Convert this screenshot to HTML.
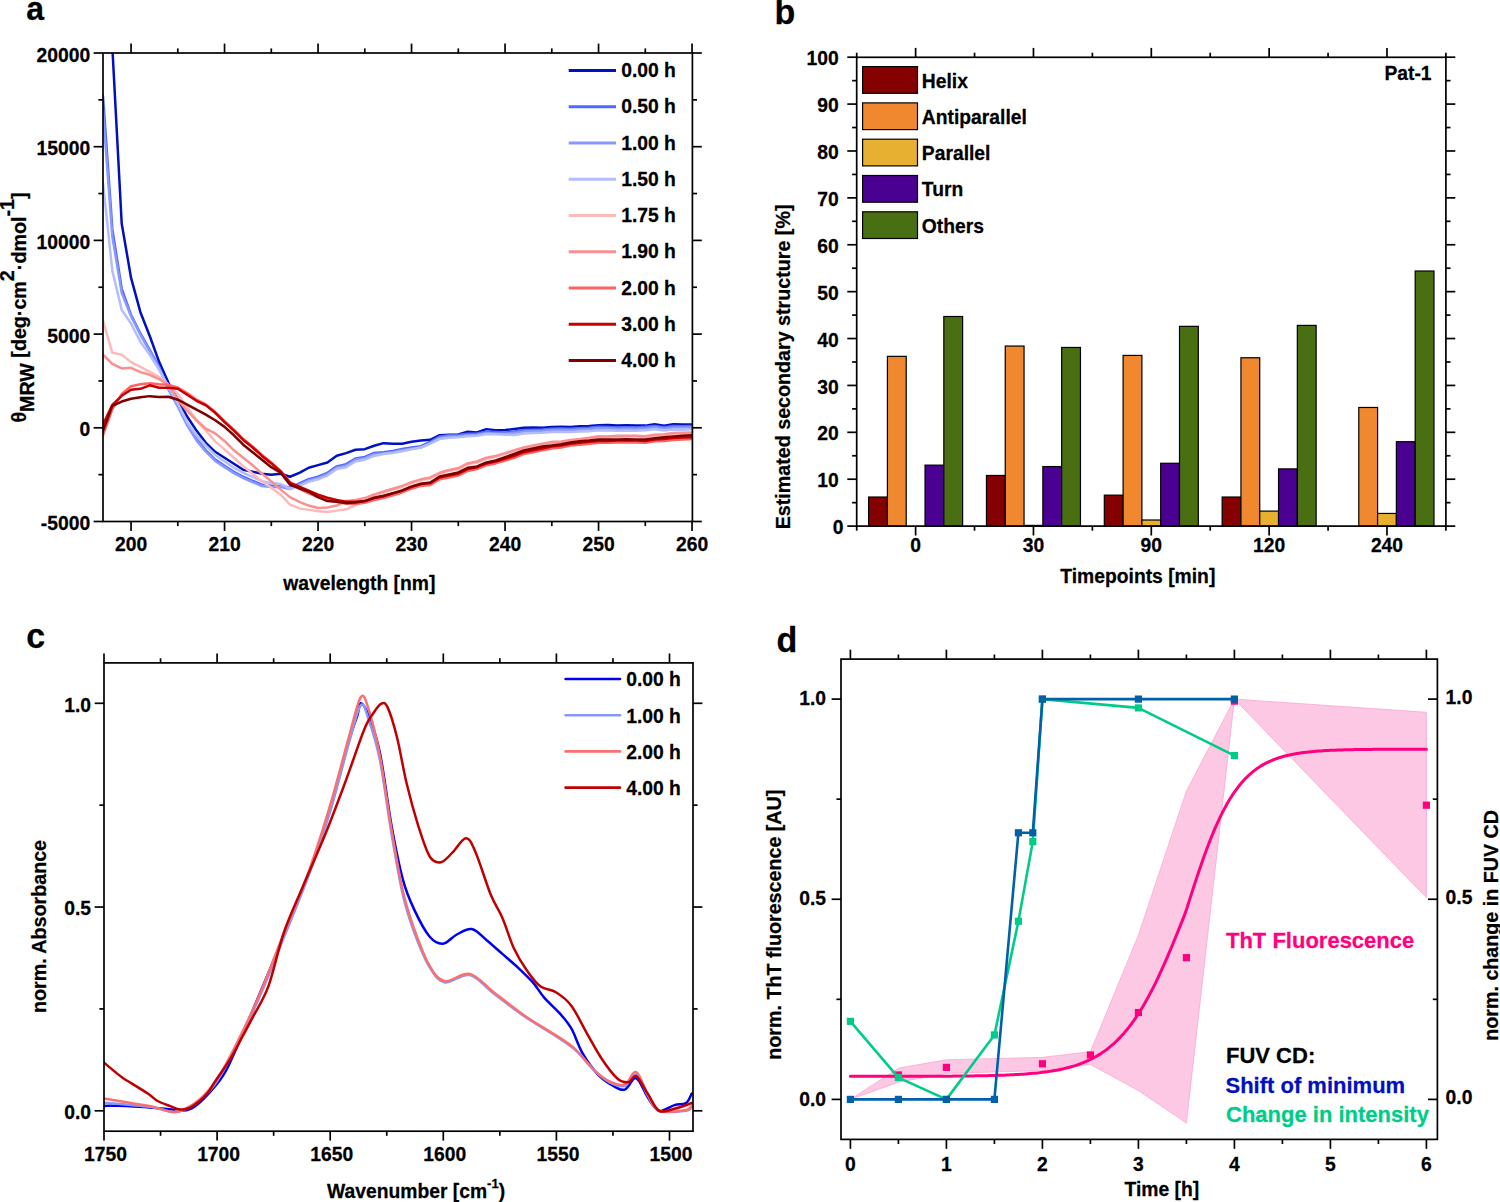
<!DOCTYPE html><html><head><meta charset="utf-8"><style>html,body{margin:0;padding:0;background:#fff;overflow:hidden}svg{display:block}</style></head><body><svg width="1500" height="1202" viewBox="0 0 1500 1202" style="font-family:'Liberation Sans',sans-serif" font-weight="bold" font-size="19.3">
<style>text{stroke:#000;stroke-width:0.25px;stroke-linejoin:round}</style>
<rect width="1500" height="1202" fill="#fff"/>
<defs><clipPath id="ca"><rect x="103.0" y="53.0" width="589.4" height="468.5"/></clipPath>
<clipPath id="cc"><rect x="104.0" y="662.9" width="589.0" height="468.30000000000007"/></clipPath></defs>
<path d="M103,-115.66 L112.35,47.38 L121.7,223.53 L131.05,277.88 L140.4,312.17 L149.75,335.97 L159.1,361.84 L168.45,382.82 L177.8,399.69 L187.15,416.56 L196.5,430.61 L205.85,442.79 L215.2,451.79 L224.55,457.78 L233.9,463.78 L243.25,469.78 L252.6,471.78 L261.95,473.77 L271.3,474.78 L280.65,473.77 L290,476.77 L299.35,472.78 L308.7,467.77 L318.05,465.11 L327.4,462.45 L336.75,455.78 L346.1,453.12 L355.45,449.78 L364.8,449.13 L374.15,445.79 L383.5,443.13 L392.85,443.79 L402.2,443.79 L411.55,441.8 L420.9,440.47 L430.25,439.79 L439.6,435.13 L448.95,434.73 L458.3,434.47 L467.65,431.79 L477,432.47 L486.35,429.13 L495.7,430.2 L505.05,429.99 L514.4,428.92 L523.75,427.8 L533.1,427.43 L542.45,427.8 L551.8,427.07 L561.15,426.68 L570.5,427.05 L579.85,426.3 L589.2,425.93 L598.55,425.16 L607.9,424.99 L617.25,425.61 L626.6,425.36 L635.95,425.55 L645.3,425.61 L654.65,424.13 L664,425.61 L673.35,424.13 L682.7,424.43 L692.05,424.58" fill="none" stroke="#0010C0" stroke-width="2.5" stroke-linejoin="round" stroke-linecap="round" clip-path="url(#ca)"/>
<path d="M103,96.1 L112.35,229.16 L121.7,288.56 L131.05,314.85 L140.4,333.44 L149.75,349.84 L159.1,366.89 L168.45,388.45 L177.8,405.31 L187.15,424.05 L196.5,439.04 L205.85,450.29 L215.2,459.66 L224.55,465.79 L233.9,471.78 L243.25,476.77 L252.6,480.78 L261.95,484.77 L271.3,485.76 L280.65,485.76 L290,487.77 L299.35,483.27 L308.7,479.15 L318.05,476.71 L327.4,472.78 L336.75,466.4 L346.1,464.16 L355.45,458.46 L364.8,456.88 L374.15,452.89 L383.5,452.22 L392.85,450.89 L402.2,448.9 L411.55,447.55 L420.9,446.22 L430.25,441.86 L439.6,436.46 L448.95,435.13 L458.3,434.92 L467.65,433.8 L477,433.42 L486.35,431.79 L495.7,432.11 L505.05,432.49 L514.4,431.55 L523.75,430.05 L533.1,429.67 L542.45,429.49 L551.8,428.74 L561.15,428.55 L570.5,428.74 L579.85,428.17 L589.2,427.8 L598.55,426.86 L607.9,427.05 L617.25,427.43 L626.6,427.24 L635.95,427.43 L645.3,426.86 L654.65,425.93 L664,427.24 L673.35,426.11 L682.7,426.3 L692.05,425.93" fill="none" stroke="#5068FF" stroke-width="2.5" stroke-linejoin="round" stroke-linecap="round" clip-path="url(#ca)"/>
<path d="M103,111.09 L112.35,236.65 L121.7,292.87 L131.05,316.17 L140.4,334.76 L149.75,351.15 L159.1,368.21 L168.45,389.76 L177.8,406.62 L187.15,425.36 L196.5,440.36 L205.85,451.6 L215.2,460.97 L224.55,467.1 L233.9,473.09 L243.25,478.08 L252.6,482.09 L261.95,486.08 L271.3,487.07 L280.65,487.07 L290,489.08 L299.35,484.58 L308.7,480.46 L318.05,478.02 L327.4,474.09 L336.75,467.72 L346.1,465.47 L355.45,459.77 L364.8,458.2 L374.15,454.2 L383.5,453.53 L392.85,452.2 L402.2,450.21 L411.55,448.86 L420.9,447.53 L430.25,443.17 L439.6,437.77 L448.95,436.44 L458.3,436.23 L467.65,435.11 L477,434.73 L486.35,433.1 L495.7,433.42 L505.05,433.8 L514.4,432.86 L523.75,431.36 L533.1,430.99 L542.45,430.8 L551.8,430.05 L561.15,429.86 L570.5,430.05 L579.85,429.49 L589.2,429.11 L598.55,428.17 L607.9,428.36 L617.25,428.74 L626.6,428.55 L635.95,428.74 L645.3,428.17 L654.65,427.24 L664,428.55 L673.35,427.43 L682.7,427.61 L692.05,427.24" fill="none" stroke="#8898FF" stroke-width="2.5" stroke-linejoin="round" stroke-linecap="round" clip-path="url(#ca)"/>
<path d="M103,182.87 L112.35,270.89 L121.7,309.87 L131.05,323.46 L140.4,341.86 L149.75,354.85 L159.1,369.71 L168.45,386.57 L177.8,403.44 L187.15,422.18 L196.5,435.3 L205.85,445.6 L215.2,454.97 L224.55,461.53 L233.9,467.72 L243.25,472.78 L252.6,476.9 L261.95,481.21 L271.3,483.08 L280.65,484.02 L290,488.71 L299.35,485.89 L308.7,481.77 L318.05,479.34 L327.4,475.59 L336.75,469.03 L346.1,467.15 L355.45,461.53 L364.8,459.66 L374.15,455.91 L383.5,454.04 L392.85,453.1 L402.2,451.23 L411.55,449.35 L420.9,447.48 L430.25,443.73 L439.6,439.04 L448.95,437.73 L458.3,437.17 L467.65,436.23 L477,435.67 L486.35,433.98 L495.7,434.36 L505.05,434.73 L514.4,434.92 L523.75,433.42 L533.1,433.05 L542.45,432.86 L551.8,432.11 L561.15,431.92 L570.5,432.11 L579.85,431.55 L589.2,431.17 L598.55,430.24 L607.9,430.42 L617.25,430.8 L626.6,430.61 L635.95,430.8 L645.3,430.24 L654.65,429.3 L664,430.61 L673.35,429.49 L682.7,429.67 L692.05,429.3" fill="none" stroke="#B4BEFF" stroke-width="2.5" stroke-linejoin="round" stroke-linecap="round" clip-path="url(#ca)"/>
<path d="M103,320.85 L112.35,352.84 L121.7,354.64 L131.05,362.14 L140.4,366.84 L149.75,371.82 L159.1,377.2 L168.45,384.7 L177.8,394.07 L187.15,407.19 L196.5,420.3 L205.85,430.61 L215.2,441.35 L224.55,449.35 L233.9,457.78 L243.25,466.22 L252.6,473.71 L261.95,481.32 L271.3,487.77 L280.65,494.66 L290,504.63 L299.35,508.38 L308.7,509.88 L318.05,511.19 L327.4,512 L336.75,510.63 L346.1,509.34 L355.45,505.1 L364.8,501.82 L374.15,495.26 L383.5,492.45 L392.85,489.64 L402.2,486.83 L411.55,483.08 L420.9,480.27 L430.25,478.4 L439.6,473.71 L448.95,470.9 L458.3,469.03 L467.65,464.34 L477,462.47 L486.35,458.72 L495.7,456.85 L505.05,454.04 L514.4,451.23 L523.75,448.41 L533.1,446.54 L542.45,444.67 L551.8,442.79 L561.15,442.42 L570.5,440.92 L579.85,439.98 L589.2,438.67 L598.55,437.17 L607.9,437.54 L617.25,436.8 L626.6,436.61 L635.95,436.8 L645.3,437.17 L654.65,435.67 L664,435.3 L673.35,433.98 L682.7,433.8 L692.05,433.42" fill="none" stroke="#FCBABA" stroke-width="2.5" stroke-linejoin="round" stroke-linecap="round" clip-path="url(#ca)"/>
<path d="M103,354.64 L112.35,363.84 L121.7,368.43 L131.05,367.83 L140.4,372.14 L149.75,374.82 L159.1,379.08 L168.45,384.7 L177.8,399.69 L187.15,410.93 L196.5,420.3 L205.85,428.74 L215.2,433.42 L224.55,440.92 L233.9,450.29 L243.25,457.78 L252.6,465.28 L261.95,473.71 L271.3,481.21 L280.65,489.64 L290,497.14 L299.35,501.82 L308.7,505.57 L318.05,508.01 L327.4,507.44 L336.75,505.57 L346.1,501.09 L355.45,499.95 L364.8,498.08 L374.15,494.33 L383.5,491.52 L392.85,488.71 L402.2,485.89 L411.55,482.15 L420.9,479.34 L430.25,477.46 L439.6,472.78 L448.95,469.97 L458.3,468.09 L467.65,463.41 L477,461.53 L486.35,457.78 L495.7,455.91 L505.05,453.1 L514.4,450.29 L523.75,447.48 L533.1,445.6 L542.45,443.73 L551.8,441.86 L561.15,441.48 L570.5,439.98 L579.85,439.04 L589.2,437.73 L598.55,436.23 L607.9,436.61 L617.25,435.86 L626.6,435.67 L635.95,435.86 L645.3,436.23 L654.65,434.73 L664,434.36 L673.35,433.05 L682.7,432.86 L692.05,432.49" fill="none" stroke="#FB9090" stroke-width="2.5" stroke-linejoin="round" stroke-linecap="round" clip-path="url(#ca)"/>
<path d="M103,435.3 L112.35,409.06 L121.7,394.07 L131.05,386.33 L140.4,384.32 L149.75,383.33 L159.1,384.32 L168.45,384.83 L177.8,387.51 L187.15,393.13 L196.5,399.69 L205.85,404.38 L215.2,411.87 L224.55,421.24 L233.9,429.67 L243.25,439.04 L252.6,446.54 L261.95,454.97 L271.3,462.47 L280.65,470.9 L290,482.15 L299.35,488.71 L308.7,493.39 L318.05,497.14 L327.4,499.95 L336.75,501.82 L346.1,503.7 L355.45,503.7 L364.8,502.76 L374.15,499.95 L383.5,498.08 L392.85,495.26 L402.2,492.45 L411.55,488.71 L420.9,485.89 L430.25,484.96 L439.6,479.34 L448.95,477.46 L458.3,475.59 L467.65,470.9 L477,469.03 L486.35,465.28 L495.7,463.41 L505.05,460.6 L514.4,457.78 L523.75,454.04 L533.1,452.16 L542.45,450.29 L551.8,448.41 L561.15,447.48 L570.5,445.6 L579.85,444.67 L589.2,443.73 L598.55,442.79 L607.9,442.79 L617.25,442.42 L626.6,442.23 L635.95,442.42 L645.3,442.79 L654.65,441.29 L664,440.92 L673.35,439.98 L682.7,439.42 L692.05,439.04" fill="none" stroke="#FC6464" stroke-width="2.5" stroke-linejoin="round" stroke-linecap="round" clip-path="url(#ca)"/>
<path d="M103,424.8 L112.35,404.81 L121.7,395.81 L131.05,389.81 L140.4,388.82 L149.75,385.32 L159.1,387.83 L168.45,387.83 L177.8,388.82 L187.15,394.82 L196.5,400.81 L205.85,405.31 L215.2,412.81 L224.55,422.18 L233.9,430.61 L243.25,439.98 L252.6,447.48 L261.95,455.91 L271.3,463.41 L280.65,471.46 L290,482.76 L299.35,486.77 L308.7,490.77 L318.05,494.76 L327.4,497.76 L336.75,499.95 L346.1,501.82 L355.45,501.82 L364.8,500.89 L374.15,498.08 L383.5,496.2 L392.85,493.39 L402.2,490.58 L411.55,486.83 L420.9,484.02 L430.25,483.08 L439.6,477.46 L448.95,475.59 L458.3,473.71 L467.65,469.03 L477,467.15 L486.35,463.41 L495.7,461.53 L505.05,458.72 L514.4,455.91 L523.75,452.16 L533.1,450.29 L542.45,448.41 L551.8,446.54 L561.15,445.6 L570.5,443.73 L579.85,442.79 L589.2,441.86 L598.55,440.92 L607.9,440.92 L617.25,440.54 L626.6,440.36 L635.95,440.54 L645.3,440.92 L654.65,439.42 L664,439.04 L673.35,438.11 L682.7,437.54 L692.05,437.17" fill="none" stroke="#C80000" stroke-width="2.5" stroke-linejoin="round" stroke-linecap="round" clip-path="url(#ca)"/>
<path d="M103,430.8 L112.35,405.82 L121.7,401.56 L131.05,398.75 L140.4,397.25 L149.75,396.13 L159.1,396.88 L168.45,396.69 L177.8,399.69 L187.15,404.69 L196.5,409.68 L205.85,414.68 L215.2,420.3 L224.55,426.86 L233.9,435.3 L243.25,444.67 L252.6,452.16 L261.95,459.66 L271.3,467.15 L280.65,472.78 L290,484.77 L299.35,488.33 L308.7,491.76 L318.05,497.1 L327.4,501.09 L336.75,501.77 L346.1,503.1 L355.45,502.42 L364.8,501.09 L374.15,497.76 L383.5,495.77 L392.85,493.09 L402.2,490.43 L411.55,486.44 L420.9,483.78 L430.25,482.45 L439.6,476.45 L448.95,474.44 L458.3,472.44 L467.65,467.77 L477,466.44 L486.35,462.45 L495.7,460.45 L505.05,457.11 L514.4,454.04 L523.75,450.51 L533.1,448.41 L542.45,446.54 L551.8,445.4 L561.15,444.29 L570.5,442.45 L579.85,441.29 L589.2,440.54 L598.55,439.53 L607.9,439.61 L617.25,439.42 L626.6,439.23 L635.95,439.42 L645.3,439.53 L654.65,438.29 L664,437.32 L673.35,436.42 L682.7,435.67 L692.05,435.13" fill="none" stroke="#800000" stroke-width="2.5" stroke-linejoin="round" stroke-linecap="round" clip-path="url(#ca)"/>
<rect x="103" y="53" width="589.4" height="468.5" fill="none" stroke="#000" stroke-width="1.7"/>
<line x1="93.6" y1="521.5" x2="103" y2="521.5" stroke="#000" stroke-width="1.7" stroke-linecap="butt"/>
<line x1="692.4" y1="521.5" x2="701.8" y2="521.5" stroke="#000" stroke-width="1.7" stroke-linecap="butt"/>
<text transform="translate(90.2,530) scale(1,1.02)" text-anchor="end">-5000</text>
<line x1="98.4" y1="474.65" x2="103" y2="474.65" stroke="#000" stroke-width="1.7" stroke-linecap="butt"/>
<line x1="692.4" y1="474.65" x2="697" y2="474.65" stroke="#000" stroke-width="1.7" stroke-linecap="butt"/>
<line x1="93.6" y1="427.8" x2="103" y2="427.8" stroke="#000" stroke-width="1.7" stroke-linecap="butt"/>
<line x1="692.4" y1="427.8" x2="701.8" y2="427.8" stroke="#000" stroke-width="1.7" stroke-linecap="butt"/>
<text transform="translate(90.2,436.3) scale(1,1.02)" text-anchor="end">0</text>
<line x1="98.4" y1="380.95" x2="103" y2="380.95" stroke="#000" stroke-width="1.7" stroke-linecap="butt"/>
<line x1="692.4" y1="380.95" x2="697" y2="380.95" stroke="#000" stroke-width="1.7" stroke-linecap="butt"/>
<line x1="93.6" y1="334.1" x2="103" y2="334.1" stroke="#000" stroke-width="1.7" stroke-linecap="butt"/>
<line x1="692.4" y1="334.1" x2="701.8" y2="334.1" stroke="#000" stroke-width="1.7" stroke-linecap="butt"/>
<text transform="translate(90.2,342.6) scale(1,1.02)" text-anchor="end">5000</text>
<line x1="98.4" y1="287.25" x2="103" y2="287.25" stroke="#000" stroke-width="1.7" stroke-linecap="butt"/>
<line x1="692.4" y1="287.25" x2="697" y2="287.25" stroke="#000" stroke-width="1.7" stroke-linecap="butt"/>
<line x1="93.6" y1="240.4" x2="103" y2="240.4" stroke="#000" stroke-width="1.7" stroke-linecap="butt"/>
<line x1="692.4" y1="240.4" x2="701.8" y2="240.4" stroke="#000" stroke-width="1.7" stroke-linecap="butt"/>
<text transform="translate(90.2,248.9) scale(1,1.02)" text-anchor="end">10000</text>
<line x1="98.4" y1="193.55" x2="103" y2="193.55" stroke="#000" stroke-width="1.7" stroke-linecap="butt"/>
<line x1="692.4" y1="193.55" x2="697" y2="193.55" stroke="#000" stroke-width="1.7" stroke-linecap="butt"/>
<line x1="93.6" y1="146.7" x2="103" y2="146.7" stroke="#000" stroke-width="1.7" stroke-linecap="butt"/>
<line x1="692.4" y1="146.7" x2="701.8" y2="146.7" stroke="#000" stroke-width="1.7" stroke-linecap="butt"/>
<text transform="translate(90.2,155.2) scale(1,1.02)" text-anchor="end">15000</text>
<line x1="98.4" y1="99.85" x2="103" y2="99.85" stroke="#000" stroke-width="1.7" stroke-linecap="butt"/>
<line x1="692.4" y1="99.85" x2="697" y2="99.85" stroke="#000" stroke-width="1.7" stroke-linecap="butt"/>
<line x1="93.6" y1="53" x2="103" y2="53" stroke="#000" stroke-width="1.7" stroke-linecap="butt"/>
<line x1="692.4" y1="53" x2="701.8" y2="53" stroke="#000" stroke-width="1.7" stroke-linecap="butt"/>
<text transform="translate(90.2,61.5) scale(1,1.02)" text-anchor="end">20000</text>
<line x1="131.05" y1="521.5" x2="131.05" y2="530.9" stroke="#000" stroke-width="1.7" stroke-linecap="butt"/>
<line x1="131.05" y1="43.6" x2="131.05" y2="53" stroke="#000" stroke-width="1.7" stroke-linecap="butt"/>
<text transform="translate(131.05,551.2) scale(1,1.02)" text-anchor="middle">200</text>
<line x1="177.8" y1="521.5" x2="177.8" y2="526.1" stroke="#000" stroke-width="1.7" stroke-linecap="butt"/>
<line x1="177.8" y1="48.4" x2="177.8" y2="53" stroke="#000" stroke-width="1.7" stroke-linecap="butt"/>
<line x1="224.55" y1="521.5" x2="224.55" y2="530.9" stroke="#000" stroke-width="1.7" stroke-linecap="butt"/>
<line x1="224.55" y1="43.6" x2="224.55" y2="53" stroke="#000" stroke-width="1.7" stroke-linecap="butt"/>
<text transform="translate(224.55,551.2) scale(1,1.02)" text-anchor="middle">210</text>
<line x1="271.3" y1="521.5" x2="271.3" y2="526.1" stroke="#000" stroke-width="1.7" stroke-linecap="butt"/>
<line x1="271.3" y1="48.4" x2="271.3" y2="53" stroke="#000" stroke-width="1.7" stroke-linecap="butt"/>
<line x1="318.05" y1="521.5" x2="318.05" y2="530.9" stroke="#000" stroke-width="1.7" stroke-linecap="butt"/>
<line x1="318.05" y1="43.6" x2="318.05" y2="53" stroke="#000" stroke-width="1.7" stroke-linecap="butt"/>
<text transform="translate(318.05,551.2) scale(1,1.02)" text-anchor="middle">220</text>
<line x1="364.8" y1="521.5" x2="364.8" y2="526.1" stroke="#000" stroke-width="1.7" stroke-linecap="butt"/>
<line x1="364.8" y1="48.4" x2="364.8" y2="53" stroke="#000" stroke-width="1.7" stroke-linecap="butt"/>
<line x1="411.55" y1="521.5" x2="411.55" y2="530.9" stroke="#000" stroke-width="1.7" stroke-linecap="butt"/>
<line x1="411.55" y1="43.6" x2="411.55" y2="53" stroke="#000" stroke-width="1.7" stroke-linecap="butt"/>
<text transform="translate(411.55,551.2) scale(1,1.02)" text-anchor="middle">230</text>
<line x1="458.3" y1="521.5" x2="458.3" y2="526.1" stroke="#000" stroke-width="1.7" stroke-linecap="butt"/>
<line x1="458.3" y1="48.4" x2="458.3" y2="53" stroke="#000" stroke-width="1.7" stroke-linecap="butt"/>
<line x1="505.05" y1="521.5" x2="505.05" y2="530.9" stroke="#000" stroke-width="1.7" stroke-linecap="butt"/>
<line x1="505.05" y1="43.6" x2="505.05" y2="53" stroke="#000" stroke-width="1.7" stroke-linecap="butt"/>
<text transform="translate(505.05,551.2) scale(1,1.02)" text-anchor="middle">240</text>
<line x1="551.8" y1="521.5" x2="551.8" y2="526.1" stroke="#000" stroke-width="1.7" stroke-linecap="butt"/>
<line x1="551.8" y1="48.4" x2="551.8" y2="53" stroke="#000" stroke-width="1.7" stroke-linecap="butt"/>
<line x1="598.55" y1="521.5" x2="598.55" y2="530.9" stroke="#000" stroke-width="1.7" stroke-linecap="butt"/>
<line x1="598.55" y1="43.6" x2="598.55" y2="53" stroke="#000" stroke-width="1.7" stroke-linecap="butt"/>
<text transform="translate(598.55,551.2) scale(1,1.02)" text-anchor="middle">250</text>
<line x1="645.3" y1="521.5" x2="645.3" y2="526.1" stroke="#000" stroke-width="1.7" stroke-linecap="butt"/>
<line x1="645.3" y1="48.4" x2="645.3" y2="53" stroke="#000" stroke-width="1.7" stroke-linecap="butt"/>
<line x1="692.05" y1="521.5" x2="692.05" y2="530.9" stroke="#000" stroke-width="1.7" stroke-linecap="butt"/>
<line x1="692.05" y1="43.6" x2="692.05" y2="53" stroke="#000" stroke-width="1.7" stroke-linecap="butt"/>
<text transform="translate(692.05,551.2) scale(1,1.02)" text-anchor="middle">260</text>
<text transform="translate(359.3,590.2) scale(1,1.02)" text-anchor="middle">wavelength [nm]</text>
<text transform="translate(26.3,422.6) rotate(-90) scale(1.02,1)">θ<tspan dy="7.2">MRW</tspan><tspan dy="-7.2"> [deg·cm</tspan><tspan dy="-12">2</tspan><tspan dy="12">·dmol</tspan><tspan dy="-12">-1</tspan><tspan dy="12">]</tspan></text>
<line x1="568.7" y1="70.5" x2="616" y2="70.5" stroke="#0010C0" stroke-width="2.8" stroke-linecap="butt"/>
<text transform="translate(621.2,77) scale(1,1.02)">0.00 h</text>
<line x1="568.7" y1="106.75" x2="616" y2="106.75" stroke="#5068FF" stroke-width="2.8" stroke-linecap="butt"/>
<text transform="translate(621.2,113.25) scale(1,1.02)">0.50 h</text>
<line x1="568.7" y1="143" x2="616" y2="143" stroke="#8898FF" stroke-width="2.8" stroke-linecap="butt"/>
<text transform="translate(621.2,149.5) scale(1,1.02)">1.00 h</text>
<line x1="568.7" y1="179.25" x2="616" y2="179.25" stroke="#B4BEFF" stroke-width="2.8" stroke-linecap="butt"/>
<text transform="translate(621.2,185.75) scale(1,1.02)">1.50 h</text>
<line x1="568.7" y1="215.5" x2="616" y2="215.5" stroke="#FCBABA" stroke-width="2.8" stroke-linecap="butt"/>
<text transform="translate(621.2,222) scale(1,1.02)">1.75 h</text>
<line x1="568.7" y1="251.75" x2="616" y2="251.75" stroke="#FB9090" stroke-width="2.8" stroke-linecap="butt"/>
<text transform="translate(621.2,258.25) scale(1,1.02)">1.90 h</text>
<line x1="568.7" y1="288" x2="616" y2="288" stroke="#FC6464" stroke-width="2.8" stroke-linecap="butt"/>
<text transform="translate(621.2,294.5) scale(1,1.02)">2.00 h</text>
<line x1="568.7" y1="324.25" x2="616" y2="324.25" stroke="#C80000" stroke-width="2.8" stroke-linecap="butt"/>
<text transform="translate(621.2,330.75) scale(1,1.02)">3.00 h</text>
<line x1="568.7" y1="360.5" x2="616" y2="360.5" stroke="#800000" stroke-width="2.8" stroke-linecap="butt"/>
<text transform="translate(621.2,367) scale(1,1.02)">4.00 h</text>
<text transform="translate(26.2,20) scale(1,1.02)" font-size="32">a</text>
<rect x="868.62" y="497.03" width="18.8" height="29.07" fill="#850000" stroke="#000" stroke-width="1.2"/>
<rect x="887.42" y="356.36" width="18.8" height="169.74" fill="#F08830" stroke="#000" stroke-width="1.2"/>
<rect x="925.02" y="465.14" width="18.8" height="60.96" fill="#4A0090" stroke="#000" stroke-width="1.2"/>
<rect x="943.82" y="316.5" width="18.8" height="209.6" fill="#4A6E12" stroke="#000" stroke-width="1.2"/>
<rect x="986.46" y="475.46" width="18.8" height="50.64" fill="#850000" stroke="#000" stroke-width="1.2"/>
<rect x="1005.26" y="346.04" width="18.8" height="180.06" fill="#F08830" stroke="#000" stroke-width="1.2"/>
<rect x="1024.06" y="525.4" width="18.8" height="0.7" fill="#E8B030" stroke="#000" stroke-width="1.2"/>
<rect x="1042.86" y="466.55" width="18.8" height="59.55" fill="#4A0090" stroke="#000" stroke-width="1.2"/>
<rect x="1061.66" y="347.45" width="18.8" height="178.65" fill="#4A6E12" stroke="#000" stroke-width="1.2"/>
<rect x="1104.3" y="495.15" width="18.8" height="30.95" fill="#850000" stroke="#000" stroke-width="1.2"/>
<rect x="1123.1" y="355.42" width="18.8" height="170.68" fill="#F08830" stroke="#000" stroke-width="1.2"/>
<rect x="1141.9" y="520" width="18.8" height="6.1" fill="#E8B030" stroke="#000" stroke-width="1.2"/>
<rect x="1160.7" y="463.27" width="18.8" height="62.83" fill="#4A0090" stroke="#000" stroke-width="1.2"/>
<rect x="1179.5" y="326.35" width="18.8" height="199.75" fill="#4A6E12" stroke="#000" stroke-width="1.2"/>
<rect x="1222.14" y="497.03" width="18.8" height="29.07" fill="#850000" stroke="#000" stroke-width="1.2"/>
<rect x="1240.94" y="357.76" width="18.8" height="168.34" fill="#F08830" stroke="#000" stroke-width="1.2"/>
<rect x="1259.74" y="511.1" width="18.8" height="15" fill="#E8B030" stroke="#000" stroke-width="1.2"/>
<rect x="1278.54" y="468.89" width="18.8" height="57.21" fill="#4A0090" stroke="#000" stroke-width="1.2"/>
<rect x="1297.34" y="325.41" width="18.8" height="200.69" fill="#4A6E12" stroke="#000" stroke-width="1.2"/>
<rect x="1358.78" y="407.47" width="18.8" height="118.63" fill="#F08830" stroke="#000" stroke-width="1.2"/>
<rect x="1377.58" y="513.44" width="18.8" height="12.66" fill="#E8B030" stroke="#000" stroke-width="1.2"/>
<rect x="1396.38" y="441.7" width="18.8" height="84.4" fill="#4A0090" stroke="#000" stroke-width="1.2"/>
<rect x="1415.18" y="271.02" width="18.8" height="255.08" fill="#4A6E12" stroke="#000" stroke-width="1.2"/>
<rect x="856.7" y="57.3" width="589.2" height="468.8" fill="none" stroke="#000" stroke-width="1.7"/>
<line x1="847.3" y1="526.1" x2="856.7" y2="526.1" stroke="#000" stroke-width="1.7" stroke-linecap="butt"/>
<line x1="1445.9" y1="526.1" x2="1455.3" y2="526.1" stroke="#000" stroke-width="1.7" stroke-linecap="butt"/>
<text transform="translate(843.6,534.2) scale(1,1.02)" text-anchor="end">0</text>
<line x1="852.1" y1="502.66" x2="856.7" y2="502.66" stroke="#000" stroke-width="1.7" stroke-linecap="butt"/>
<line x1="1445.9" y1="502.66" x2="1450.5" y2="502.66" stroke="#000" stroke-width="1.7" stroke-linecap="butt"/>
<line x1="847.3" y1="479.21" x2="856.7" y2="479.21" stroke="#000" stroke-width="1.7" stroke-linecap="butt"/>
<line x1="1445.9" y1="479.21" x2="1455.3" y2="479.21" stroke="#000" stroke-width="1.7" stroke-linecap="butt"/>
<text transform="translate(838.8,487.31) scale(1,1.02)" text-anchor="end">10</text>
<line x1="852.1" y1="455.76" x2="856.7" y2="455.76" stroke="#000" stroke-width="1.7" stroke-linecap="butt"/>
<line x1="1445.9" y1="455.76" x2="1450.5" y2="455.76" stroke="#000" stroke-width="1.7" stroke-linecap="butt"/>
<line x1="847.3" y1="432.32" x2="856.7" y2="432.32" stroke="#000" stroke-width="1.7" stroke-linecap="butt"/>
<line x1="1445.9" y1="432.32" x2="1455.3" y2="432.32" stroke="#000" stroke-width="1.7" stroke-linecap="butt"/>
<text transform="translate(838.8,440.42) scale(1,1.02)" text-anchor="end">20</text>
<line x1="852.1" y1="408.88" x2="856.7" y2="408.88" stroke="#000" stroke-width="1.7" stroke-linecap="butt"/>
<line x1="1445.9" y1="408.88" x2="1450.5" y2="408.88" stroke="#000" stroke-width="1.7" stroke-linecap="butt"/>
<line x1="847.3" y1="385.43" x2="856.7" y2="385.43" stroke="#000" stroke-width="1.7" stroke-linecap="butt"/>
<line x1="1445.9" y1="385.43" x2="1455.3" y2="385.43" stroke="#000" stroke-width="1.7" stroke-linecap="butt"/>
<text transform="translate(838.8,393.53) scale(1,1.02)" text-anchor="end">30</text>
<line x1="852.1" y1="361.99" x2="856.7" y2="361.99" stroke="#000" stroke-width="1.7" stroke-linecap="butt"/>
<line x1="1445.9" y1="361.99" x2="1450.5" y2="361.99" stroke="#000" stroke-width="1.7" stroke-linecap="butt"/>
<line x1="847.3" y1="338.54" x2="856.7" y2="338.54" stroke="#000" stroke-width="1.7" stroke-linecap="butt"/>
<line x1="1445.9" y1="338.54" x2="1455.3" y2="338.54" stroke="#000" stroke-width="1.7" stroke-linecap="butt"/>
<text transform="translate(838.8,346.64) scale(1,1.02)" text-anchor="end">40</text>
<line x1="852.1" y1="315.1" x2="856.7" y2="315.1" stroke="#000" stroke-width="1.7" stroke-linecap="butt"/>
<line x1="1445.9" y1="315.1" x2="1450.5" y2="315.1" stroke="#000" stroke-width="1.7" stroke-linecap="butt"/>
<line x1="847.3" y1="291.65" x2="856.7" y2="291.65" stroke="#000" stroke-width="1.7" stroke-linecap="butt"/>
<line x1="1445.9" y1="291.65" x2="1455.3" y2="291.65" stroke="#000" stroke-width="1.7" stroke-linecap="butt"/>
<text transform="translate(838.8,299.75) scale(1,1.02)" text-anchor="end">50</text>
<line x1="852.1" y1="268.21" x2="856.7" y2="268.21" stroke="#000" stroke-width="1.7" stroke-linecap="butt"/>
<line x1="1445.9" y1="268.21" x2="1450.5" y2="268.21" stroke="#000" stroke-width="1.7" stroke-linecap="butt"/>
<line x1="847.3" y1="244.76" x2="856.7" y2="244.76" stroke="#000" stroke-width="1.7" stroke-linecap="butt"/>
<line x1="1445.9" y1="244.76" x2="1455.3" y2="244.76" stroke="#000" stroke-width="1.7" stroke-linecap="butt"/>
<text transform="translate(838.8,252.86) scale(1,1.02)" text-anchor="end">60</text>
<line x1="852.1" y1="221.31" x2="856.7" y2="221.31" stroke="#000" stroke-width="1.7" stroke-linecap="butt"/>
<line x1="1445.9" y1="221.31" x2="1450.5" y2="221.31" stroke="#000" stroke-width="1.7" stroke-linecap="butt"/>
<line x1="847.3" y1="197.87" x2="856.7" y2="197.87" stroke="#000" stroke-width="1.7" stroke-linecap="butt"/>
<line x1="1445.9" y1="197.87" x2="1455.3" y2="197.87" stroke="#000" stroke-width="1.7" stroke-linecap="butt"/>
<text transform="translate(838.8,205.97) scale(1,1.02)" text-anchor="end">70</text>
<line x1="852.1" y1="174.43" x2="856.7" y2="174.43" stroke="#000" stroke-width="1.7" stroke-linecap="butt"/>
<line x1="1445.9" y1="174.43" x2="1450.5" y2="174.43" stroke="#000" stroke-width="1.7" stroke-linecap="butt"/>
<line x1="847.3" y1="150.98" x2="856.7" y2="150.98" stroke="#000" stroke-width="1.7" stroke-linecap="butt"/>
<line x1="1445.9" y1="150.98" x2="1455.3" y2="150.98" stroke="#000" stroke-width="1.7" stroke-linecap="butt"/>
<text transform="translate(838.8,159.08) scale(1,1.02)" text-anchor="end">80</text>
<line x1="852.1" y1="127.54" x2="856.7" y2="127.54" stroke="#000" stroke-width="1.7" stroke-linecap="butt"/>
<line x1="1445.9" y1="127.54" x2="1450.5" y2="127.54" stroke="#000" stroke-width="1.7" stroke-linecap="butt"/>
<line x1="847.3" y1="104.09" x2="856.7" y2="104.09" stroke="#000" stroke-width="1.7" stroke-linecap="butt"/>
<line x1="1445.9" y1="104.09" x2="1455.3" y2="104.09" stroke="#000" stroke-width="1.7" stroke-linecap="butt"/>
<text transform="translate(838.8,112.19) scale(1,1.02)" text-anchor="end">90</text>
<line x1="852.1" y1="80.65" x2="856.7" y2="80.65" stroke="#000" stroke-width="1.7" stroke-linecap="butt"/>
<line x1="1445.9" y1="80.65" x2="1450.5" y2="80.65" stroke="#000" stroke-width="1.7" stroke-linecap="butt"/>
<line x1="847.3" y1="57.2" x2="856.7" y2="57.2" stroke="#000" stroke-width="1.7" stroke-linecap="butt"/>
<line x1="1445.9" y1="57.2" x2="1455.3" y2="57.2" stroke="#000" stroke-width="1.7" stroke-linecap="butt"/>
<text transform="translate(838.8,65.3) scale(1,1.02)" text-anchor="end">100</text>
<line x1="856.7" y1="526.1" x2="856.7" y2="530.7" stroke="#000" stroke-width="1.7" stroke-linecap="butt"/>
<line x1="856.7" y1="52.7" x2="856.7" y2="57.3" stroke="#000" stroke-width="1.7" stroke-linecap="butt"/>
<line x1="974.54" y1="526.1" x2="974.54" y2="530.7" stroke="#000" stroke-width="1.7" stroke-linecap="butt"/>
<line x1="974.54" y1="52.7" x2="974.54" y2="57.3" stroke="#000" stroke-width="1.7" stroke-linecap="butt"/>
<line x1="1092.38" y1="526.1" x2="1092.38" y2="530.7" stroke="#000" stroke-width="1.7" stroke-linecap="butt"/>
<line x1="1092.38" y1="52.7" x2="1092.38" y2="57.3" stroke="#000" stroke-width="1.7" stroke-linecap="butt"/>
<line x1="1210.22" y1="526.1" x2="1210.22" y2="530.7" stroke="#000" stroke-width="1.7" stroke-linecap="butt"/>
<line x1="1210.22" y1="52.7" x2="1210.22" y2="57.3" stroke="#000" stroke-width="1.7" stroke-linecap="butt"/>
<line x1="1328.06" y1="526.1" x2="1328.06" y2="530.7" stroke="#000" stroke-width="1.7" stroke-linecap="butt"/>
<line x1="1328.06" y1="52.7" x2="1328.06" y2="57.3" stroke="#000" stroke-width="1.7" stroke-linecap="butt"/>
<line x1="1445.9" y1="526.1" x2="1445.9" y2="530.7" stroke="#000" stroke-width="1.7" stroke-linecap="butt"/>
<line x1="1445.9" y1="52.7" x2="1445.9" y2="57.3" stroke="#000" stroke-width="1.7" stroke-linecap="butt"/>
<line x1="915.62" y1="526.1" x2="915.62" y2="535.5" stroke="#000" stroke-width="1.7" stroke-linecap="butt"/>
<line x1="915.62" y1="47.9" x2="915.62" y2="57.3" stroke="#000" stroke-width="1.7" stroke-linecap="butt"/>
<text transform="translate(915.62,551.7) scale(1,1.02)" text-anchor="middle">0</text>
<line x1="1033.46" y1="526.1" x2="1033.46" y2="535.5" stroke="#000" stroke-width="1.7" stroke-linecap="butt"/>
<line x1="1033.46" y1="47.9" x2="1033.46" y2="57.3" stroke="#000" stroke-width="1.7" stroke-linecap="butt"/>
<text transform="translate(1033.46,551.7) scale(1,1.02)" text-anchor="middle">30</text>
<line x1="1151.3" y1="526.1" x2="1151.3" y2="535.5" stroke="#000" stroke-width="1.7" stroke-linecap="butt"/>
<line x1="1151.3" y1="47.9" x2="1151.3" y2="57.3" stroke="#000" stroke-width="1.7" stroke-linecap="butt"/>
<text transform="translate(1151.3,551.7) scale(1,1.02)" text-anchor="middle">90</text>
<line x1="1269.14" y1="526.1" x2="1269.14" y2="535.5" stroke="#000" stroke-width="1.7" stroke-linecap="butt"/>
<line x1="1269.14" y1="47.9" x2="1269.14" y2="57.3" stroke="#000" stroke-width="1.7" stroke-linecap="butt"/>
<text transform="translate(1269.14,551.7) scale(1,1.02)" text-anchor="middle">120</text>
<line x1="1386.98" y1="526.1" x2="1386.98" y2="535.5" stroke="#000" stroke-width="1.7" stroke-linecap="butt"/>
<line x1="1386.98" y1="47.9" x2="1386.98" y2="57.3" stroke="#000" stroke-width="1.7" stroke-linecap="butt"/>
<text transform="translate(1386.98,551.7) scale(1,1.02)" text-anchor="middle">240</text>
<text transform="translate(1137.8,582.7) scale(1,1.02)" text-anchor="middle">Timepoints [min]</text>
<text transform="translate(789.6,366.9) rotate(-90) scale(1.02,1)" text-anchor="middle" font-size="19.3">Estimated secondary structure [%]</text>
<rect x="862.6" y="66.6" width="54.9" height="26.7" fill="#850000" stroke="#000" stroke-width="1.2"/>
<text transform="translate(921.8,87.5) scale(1,1.02)">Helix</text>
<rect x="862.6" y="102.9" width="54.9" height="26.7" fill="#F08830" stroke="#000" stroke-width="1.2"/>
<text transform="translate(921.8,123.8) scale(1,1.02)">Antiparallel</text>
<rect x="862.6" y="139.2" width="54.9" height="26.7" fill="#E8B030" stroke="#000" stroke-width="1.2"/>
<text transform="translate(921.8,160.1) scale(1,1.02)">Parallel</text>
<rect x="862.6" y="175.5" width="54.9" height="26.7" fill="#4A0090" stroke="#000" stroke-width="1.2"/>
<text transform="translate(921.8,196.4) scale(1,1.02)">Turn</text>
<rect x="862.6" y="211.8" width="54.9" height="26.7" fill="#4A6E12" stroke="#000" stroke-width="1.2"/>
<text transform="translate(921.8,232.7) scale(1,1.02)">Others</text>
<text transform="translate(1431.6,79.7) scale(1,1.02)" text-anchor="end">Pat-1</text>
<text transform="translate(774.6,23.8) scale(1,1.02)" font-size="34">b</text>
<path d="M104,1105.91 C107.77,1105.91 119.08,1105.64 126.62,1105.91 C134.16,1106.18 141.7,1106.93 149.24,1107.54 C156.78,1108.15 166.58,1109.03 171.86,1109.58 C177.14,1110.12 177.14,1111.28 180.91,1110.8 C184.68,1110.32 188.83,1110.8 194.48,1106.72 C200.14,1102.65 209.18,1093.14 214.84,1086.35 C220.49,1079.56 222,1078.88 228.41,1065.97 C234.82,1053.07 244.06,1030.66 253.29,1008.92 C262.53,987.19 274.4,958.67 283.83,935.57 C293.25,912.48 302.11,891.43 309.84,870.38 C317.57,849.32 323.64,830.98 330.2,809.25 C336.76,787.52 344.68,755.6 349.2,739.97 C353.72,724.35 355.42,721.64 357.34,715.52 C359.27,709.41 358.85,703.3 360.74,703.3 C362.62,703.3 365.45,707.24 368.65,715.52 C371.86,723.81 376.16,734.68 379.96,753.01 C383.77,771.35 387.69,804.5 391.5,825.55 C395.31,846.6 399,865.28 402.81,879.34 C406.62,893.4 409.86,900.33 414.35,909.9 C418.83,919.48 424.94,931.16 429.73,936.8 C434.52,942.43 438.63,944.06 443.07,943.72 C447.52,943.39 451.63,937.2 456.42,934.76 C461.21,932.32 466.71,928.1 471.8,929.05 C476.89,930.01 481.87,936.32 486.96,940.46 C492.05,944.61 497.21,949.43 502.34,953.91 C507.47,958.39 512.63,962.61 517.72,967.36 C522.81,972.11 528.43,977.34 532.88,982.44 C537.32,987.53 539.93,992.76 544.41,997.92 C548.9,1003.08 555.31,1008.31 559.79,1013.41 C564.28,1018.5 567.52,1021.83 571.33,1028.48 C575.14,1035.14 578.19,1045.67 582.64,1053.34 C587.09,1061.02 592.89,1069.1 598.02,1074.53 C603.15,1079.97 608.95,1083.43 613.4,1085.94 C617.85,1088.46 620.9,1090.9 624.71,1089.61 C628.52,1088.32 632.4,1076.91 636.25,1078.2 C640.09,1079.49 643.98,1091.92 647.78,1097.35 C651.59,1102.79 654.65,1109.51 659.09,1110.8 C663.54,1112.09 669.99,1106.39 674.48,1105.1 C678.96,1103.8 683.15,1104.96 686.01,1103.06 C688.88,1101.16 690.73,1095.25 691.67,1093.68" fill="none" stroke="#0000F0" stroke-width="2.5" stroke-linejoin="round" stroke-linecap="round" clip-path="url(#cc)"/>
<path d="M104,1102.65 C111.54,1103.33 136.42,1105.37 149.24,1106.72 C162.06,1108.08 169.98,1114.54 180.91,1110.8 C191.84,1107.06 202.77,1100.95 214.84,1084.31 C226.9,1067.67 241.79,1035.41 253.29,1010.96 C264.79,986.51 274.4,960.7 283.83,937.61 C293.25,914.52 302.11,893.47 309.84,872.41 C317.57,851.36 323.64,833.02 330.2,811.29 C336.76,789.55 344.11,759.67 349.2,742.01 C354.29,724.35 357.49,709.07 360.74,705.34 C363.98,701.6 365.45,710.43 368.65,719.6 C371.86,728.77 376.16,741.33 379.96,760.35 C383.77,779.37 387.69,811.29 391.5,833.7 C395.31,856.11 399,878.32 402.81,894.82 C406.62,911.33 409.86,920.63 414.35,932.72 C418.83,944.81 424.64,959.07 429.73,967.36 C434.82,975.65 438.21,981.15 444.88,982.44 C451.56,983.73 461.47,973.13 469.77,975.1 C478.06,977.07 485.37,987.26 494.65,994.25 C503.92,1001.25 515.19,1010.08 525.41,1017.07 C535.63,1024.07 547.69,1030.79 555.95,1036.23 C564.2,1041.66 568.58,1043.97 574.95,1049.67 C581.32,1055.38 588.41,1065.02 594.18,1070.46 C599.94,1075.89 604.47,1079.69 609.56,1082.27 C614.65,1084.86 620.26,1087.23 624.71,1085.94 C629.16,1084.65 632.4,1072.97 636.25,1074.53 C640.09,1076.09 643.98,1089.27 647.78,1095.32 C651.59,1101.36 652.72,1108.22 659.09,1110.8 C665.47,1113.38 680.58,1111.48 686.01,1110.8 C691.44,1110.12 690.73,1107.4 691.67,1106.72" fill="none" stroke="#8898F8" stroke-width="2.5" stroke-linejoin="round" stroke-linecap="round" clip-path="url(#cc)"/>
<path d="M104,1098.58 C111.54,1099.8 136.42,1103.87 149.24,1105.91 C162.06,1107.95 169.98,1114.74 180.91,1110.8 C191.84,1106.86 202.77,1099.25 214.84,1082.27 C226.9,1065.3 241.79,1033.71 253.29,1008.92 C264.79,984.14 274.4,956.97 283.83,933.54 C293.25,910.11 302.11,889.73 309.84,868.34 C317.57,846.94 323.64,827.25 330.2,805.17 C336.76,783.1 344.11,753.9 349.2,735.9 C354.29,717.9 357.49,701.6 360.74,697.19 C363.98,692.77 365.45,699.56 368.65,709.41 C371.86,719.26 376.16,736.24 379.96,756.27 C383.77,776.31 387.69,807.21 391.5,829.62 C395.31,852.04 399,874.11 402.81,890.75 C406.62,907.39 409.86,916.9 414.35,929.46 C418.83,942.03 424.64,957.51 429.73,966.14 C434.82,974.76 438.21,979.92 444.88,981.21 C451.56,982.51 461.47,971.91 469.77,973.88 C478.06,975.85 485.37,985.97 494.65,993.03 C503.92,1000.1 515.19,1009.2 525.41,1016.26 C535.63,1023.32 547.69,1029.98 555.95,1035.41 C564.2,1040.85 568.58,1043.09 574.95,1048.86 C581.32,1054.63 588.41,1064.62 594.18,1070.05 C599.94,1075.48 604.47,1079.02 609.56,1081.46 C614.65,1083.9 620.26,1086.28 624.71,1084.72 C629.16,1083.16 632.4,1070.46 636.25,1072.09 C640.09,1073.72 643.98,1088.05 647.78,1094.5 C651.59,1100.95 652.72,1108.22 659.09,1110.8 C665.47,1113.38 680.58,1110.8 686.01,1109.98 C691.44,1109.17 690.73,1106.59 691.67,1105.91" fill="none" stroke="#FA7070" stroke-width="2.5" stroke-linejoin="round" stroke-linecap="round" clip-path="url(#cc)"/>
<path d="M104,1062.71 C105.89,1064.28 112.11,1069.51 115.31,1072.09 C118.51,1074.67 120.59,1076.37 123.23,1078.2 C125.87,1080.03 128.62,1081.53 131.14,1083.09 C133.67,1084.65 135.37,1085.67 138.38,1087.57 C141.4,1089.47 146.04,1092.26 149.24,1094.5 C152.44,1096.74 154.22,1099.12 157.61,1101.02 C161,1102.92 165.79,1104.48 169.6,1105.91 C173.41,1107.34 177.06,1109.31 180.46,1109.58 C183.85,1109.85 186.75,1108.97 189.96,1107.54 C193.16,1106.11 196.67,1103.53 199.68,1101.02 C202.7,1098.51 205.53,1095.65 208.05,1092.46 C210.58,1089.27 211.14,1087.44 214.84,1081.87 C218.53,1076.3 225.7,1066.45 230.22,1059.05 C234.74,1051.64 238.17,1044.51 241.98,1037.45 C245.79,1030.39 248.65,1025.22 253.07,1016.67 C257.48,1008.11 263.32,1000.1 268.45,986.11 C273.57,972.11 278.1,949.29 283.83,932.72 C289.56,916.15 295.86,903.25 302.83,886.67 C309.8,870.1 318.66,850.54 325.68,833.29 C332.69,816.04 338.49,800.42 344.9,783.17 C351.31,765.92 359.42,741.4 364.13,729.79 C368.84,718.17 370.31,717.83 373.18,713.49 C376.04,709.14 378.91,704.73 381.32,703.71 C383.73,702.69 385.02,701.67 387.65,707.38 C390.29,713.08 393.99,725.24 397.16,737.94 C400.32,750.64 403.15,768.98 406.66,783.58 C410.16,798.18 414.35,813.39 418.19,825.55 C422.04,837.71 425.92,850.41 429.73,856.52 C433.54,862.63 437.23,862.9 441.04,862.22 C444.85,861.55 448.43,856.45 452.57,852.44 C456.72,848.44 462.07,838.18 465.92,838.18 C469.77,838.18 471.5,843 475.65,852.44 C479.79,861.89 486.35,883.96 490.8,894.82 C495.25,905.69 498.49,908.75 502.34,917.64 C506.18,926.54 509.73,939.31 513.87,948.21 C518.02,957.1 522.77,964.64 527.22,971.03 C531.67,977.41 535.78,982.98 540.57,986.51 C545.35,990.04 550.82,989.03 555.95,992.22 C561.07,995.41 566.24,998.94 571.33,1005.66 C576.42,1012.39 581.4,1023.66 586.48,1032.56 C591.57,1041.46 596.78,1051.44 601.87,1059.05 C606.96,1066.65 612.57,1074.33 617.02,1078.2 C621.47,1082.07 625.35,1082.61 628.56,1082.27 C631.76,1081.94 633.04,1074.26 636.25,1076.16 C639.45,1078.06 643.98,1087.91 647.78,1093.68 C651.59,1099.46 654.65,1108.29 659.09,1110.8 C663.54,1113.31 669.05,1110.05 674.48,1108.76 C679.91,1107.47 688.8,1104.01 691.67,1103.06" fill="none" stroke="#C00000" stroke-width="2.5" stroke-linejoin="round" stroke-linecap="round" clip-path="url(#cc)"/>
<rect x="104" y="662.9" width="589" height="468.3" fill="none" stroke="#000" stroke-width="1.7"/>
<line x1="94.6" y1="1110.8" x2="104" y2="1110.8" stroke="#000" stroke-width="1.7" stroke-linecap="butt"/>
<line x1="693" y1="1110.8" x2="702.4" y2="1110.8" stroke="#000" stroke-width="1.7" stroke-linecap="butt"/>
<text transform="translate(91,1119.1) scale(1,1.02)" text-anchor="end">0.0</text>
<line x1="99.4" y1="1008.92" x2="104" y2="1008.92" stroke="#000" stroke-width="1.7" stroke-linecap="butt"/>
<line x1="693" y1="1008.92" x2="697.6" y2="1008.92" stroke="#000" stroke-width="1.7" stroke-linecap="butt"/>
<line x1="94.6" y1="907.05" x2="104" y2="907.05" stroke="#000" stroke-width="1.7" stroke-linecap="butt"/>
<line x1="693" y1="907.05" x2="702.4" y2="907.05" stroke="#000" stroke-width="1.7" stroke-linecap="butt"/>
<text transform="translate(91,915.35) scale(1,1.02)" text-anchor="end">0.5</text>
<line x1="99.4" y1="805.17" x2="104" y2="805.17" stroke="#000" stroke-width="1.7" stroke-linecap="butt"/>
<line x1="693" y1="805.17" x2="697.6" y2="805.17" stroke="#000" stroke-width="1.7" stroke-linecap="butt"/>
<line x1="94.6" y1="703.3" x2="104" y2="703.3" stroke="#000" stroke-width="1.7" stroke-linecap="butt"/>
<line x1="693" y1="703.3" x2="702.4" y2="703.3" stroke="#000" stroke-width="1.7" stroke-linecap="butt"/>
<text transform="translate(91,711.6) scale(1,1.02)" text-anchor="end">1.0</text>
<line x1="104" y1="1131.2" x2="104" y2="1140.6" stroke="#000" stroke-width="1.7" stroke-linecap="butt"/>
<line x1="104" y1="653.5" x2="104" y2="662.9" stroke="#000" stroke-width="1.7" stroke-linecap="butt"/>
<text transform="translate(105.5,1161.1) scale(1,1.02)" text-anchor="middle">1750</text>
<line x1="160.55" y1="1131.2" x2="160.55" y2="1135.8" stroke="#000" stroke-width="1.7" stroke-linecap="butt"/>
<line x1="160.55" y1="658.3" x2="160.55" y2="662.9" stroke="#000" stroke-width="1.7" stroke-linecap="butt"/>
<line x1="217.1" y1="1131.2" x2="217.1" y2="1140.6" stroke="#000" stroke-width="1.7" stroke-linecap="butt"/>
<line x1="217.1" y1="653.5" x2="217.1" y2="662.9" stroke="#000" stroke-width="1.7" stroke-linecap="butt"/>
<text transform="translate(218.6,1161.1) scale(1,1.02)" text-anchor="middle">1700</text>
<line x1="273.65" y1="1131.2" x2="273.65" y2="1135.8" stroke="#000" stroke-width="1.7" stroke-linecap="butt"/>
<line x1="273.65" y1="658.3" x2="273.65" y2="662.9" stroke="#000" stroke-width="1.7" stroke-linecap="butt"/>
<line x1="330.2" y1="1131.2" x2="330.2" y2="1140.6" stroke="#000" stroke-width="1.7" stroke-linecap="butt"/>
<line x1="330.2" y1="653.5" x2="330.2" y2="662.9" stroke="#000" stroke-width="1.7" stroke-linecap="butt"/>
<text transform="translate(331.7,1161.1) scale(1,1.02)" text-anchor="middle">1650</text>
<line x1="386.75" y1="1131.2" x2="386.75" y2="1135.8" stroke="#000" stroke-width="1.7" stroke-linecap="butt"/>
<line x1="386.75" y1="658.3" x2="386.75" y2="662.9" stroke="#000" stroke-width="1.7" stroke-linecap="butt"/>
<line x1="443.3" y1="1131.2" x2="443.3" y2="1140.6" stroke="#000" stroke-width="1.7" stroke-linecap="butt"/>
<line x1="443.3" y1="653.5" x2="443.3" y2="662.9" stroke="#000" stroke-width="1.7" stroke-linecap="butt"/>
<text transform="translate(444.8,1161.1) scale(1,1.02)" text-anchor="middle">1600</text>
<line x1="499.85" y1="1131.2" x2="499.85" y2="1135.8" stroke="#000" stroke-width="1.7" stroke-linecap="butt"/>
<line x1="499.85" y1="658.3" x2="499.85" y2="662.9" stroke="#000" stroke-width="1.7" stroke-linecap="butt"/>
<line x1="556.4" y1="1131.2" x2="556.4" y2="1140.6" stroke="#000" stroke-width="1.7" stroke-linecap="butt"/>
<line x1="556.4" y1="653.5" x2="556.4" y2="662.9" stroke="#000" stroke-width="1.7" stroke-linecap="butt"/>
<text transform="translate(557.9,1161.1) scale(1,1.02)" text-anchor="middle">1550</text>
<line x1="612.95" y1="1131.2" x2="612.95" y2="1135.8" stroke="#000" stroke-width="1.7" stroke-linecap="butt"/>
<line x1="612.95" y1="658.3" x2="612.95" y2="662.9" stroke="#000" stroke-width="1.7" stroke-linecap="butt"/>
<line x1="669.5" y1="1131.2" x2="669.5" y2="1140.6" stroke="#000" stroke-width="1.7" stroke-linecap="butt"/>
<line x1="669.5" y1="653.5" x2="669.5" y2="662.9" stroke="#000" stroke-width="1.7" stroke-linecap="butt"/>
<text transform="translate(671,1161.1) scale(1,1.02)" text-anchor="middle">1500</text>
<text transform="translate(327,1197.5) scale(1,1.02)">Wavenumber [cm<tspan dy="-9" font-size="13">-1</tspan><tspan dy="9">)</tspan></text>
<text transform="translate(45.6,926.5) rotate(-90) scale(1.02,1)" text-anchor="middle" font-size="19.3">norm. Absorbance</text>
<line x1="565.6" y1="679" x2="620" y2="679" stroke="#0000F0" stroke-width="2.6" stroke-linecap="round"/>
<text transform="translate(626.2,686.4) scale(1,1.02)">0.00 h</text>
<line x1="565.6" y1="715.2" x2="620" y2="715.2" stroke="#8898F8" stroke-width="2.6" stroke-linecap="round"/>
<text transform="translate(626.2,722.6) scale(1,1.02)">1.00 h</text>
<line x1="565.6" y1="751.4" x2="620" y2="751.4" stroke="#FA7070" stroke-width="2.6" stroke-linecap="round"/>
<text transform="translate(626.2,758.8) scale(1,1.02)">2.00 h</text>
<line x1="565.6" y1="787.6" x2="620" y2="787.6" stroke="#C00000" stroke-width="2.6" stroke-linecap="round"/>
<text transform="translate(626.2,795) scale(1,1.02)">4.00 h</text>
<text transform="translate(26.3,648.4) scale(1,1.02)" font-size="34">c</text>
<path d="M850.4,1099.4 L898.4,1068.18 L946.4,1059.77 L1042.4,1057.37 L1090.4,1051.76 L1138.4,935.28 L1186.4,791.17 L1234.4,699.1 L1426.4,712.31 L1426.4,897.65 L1234.4,699.1 L1186.4,1123.02 L1138.4,1090.59 L1090.4,1064.57 L1042.4,1070.58 L946.4,1073.38 L898.4,1082.19 L850.4,1099.4 Z" fill="#FDC8E4" stroke="#F9A8D2" stroke-width="0.8" stroke-linejoin="round"/>
<path d="M850.4,1076.37 L852.8,1076.37 L855.2,1076.37 L857.6,1076.37 L860,1076.37 L862.4,1076.37 L864.8,1076.37 L867.2,1076.36 L869.6,1076.36 L872,1076.36 L874.4,1076.36 L876.8,1076.36 L879.2,1076.36 L881.6,1076.35 L884,1076.35 L886.4,1076.35 L888.8,1076.35 L891.2,1076.34 L893.6,1076.34 L896,1076.34 L898.4,1076.33 L900.8,1076.33 L903.2,1076.33 L905.6,1076.32 L908,1076.32 L910.4,1076.31 L912.8,1076.31 L915.2,1076.3 L917.6,1076.29 L920,1076.29 L922.4,1076.28 L924.8,1076.27 L927.2,1076.26 L929.6,1076.25 L932,1076.24 L934.4,1076.23 L936.8,1076.22 L939.2,1076.21 L941.6,1076.2 L944,1076.18 L946.4,1076.17 L948.8,1076.15 L951.2,1076.13 L953.6,1076.11 L956,1076.09 L958.4,1076.07 L960.8,1076.05 L963.2,1076.02 L965.6,1075.99 L968,1075.96 L970.4,1075.93 L972.8,1075.9 L975.2,1075.86 L977.6,1075.82 L980,1075.78 L982.4,1075.73 L984.8,1075.68 L987.2,1075.63 L989.6,1075.57 L992,1075.51 L994.4,1075.45 L996.8,1075.37 L999.2,1075.3 L1001.6,1075.22 L1004,1075.13 L1006.4,1075.03 L1008.8,1074.93 L1011.2,1074.82 L1013.6,1074.7 L1016,1074.57 L1018.4,1074.43 L1020.8,1074.29 L1023.2,1074.13 L1025.6,1073.96 L1028,1073.77 L1030.4,1073.58 L1032.8,1073.36 L1035.2,1073.14 L1037.6,1072.89 L1040,1072.63 L1042.4,1072.34 L1044.8,1072.04 L1047.2,1071.71 L1049.6,1071.36 L1052,1070.99 L1054.4,1070.58 L1056.8,1070.15 L1059.2,1069.68 L1061.6,1069.18 L1064,1068.64 L1066.4,1068.07 L1068.8,1067.45 L1071.2,1066.79 L1073.6,1066.08 L1076,1065.32 L1078.4,1064.51 L1080.8,1063.64 L1083.2,1062.71 L1085.6,1061.71 L1088,1060.64 L1090.4,1059.51 L1092.8,1058.29 L1095.2,1056.99 L1097.6,1055.6 L1100,1054.13 L1102.4,1052.55 L1104.8,1050.88 L1107.2,1049.09 L1109.6,1047.19 L1112,1045.18 L1114.4,1043.04 L1116.8,1040.77 L1119.2,1038.37 L1121.6,1035.83 L1124,1033.15 L1126.4,1030.31 L1128.8,1027.32 L1131.2,1024.18 L1133.6,1020.87 L1136,1017.4 L1138.4,1013.76 L1140.8,1009.95 L1143.2,1005.97 L1145.6,1001.83 L1148,997.51 L1150.4,993.02 L1152.8,988.37 L1155.2,983.56 L1157.6,978.6 L1160,973.48 L1162.4,968.23 L1164.8,962.84 L1167.2,957.32 L1169.6,951.7 L1172,945.98 L1174.4,940.17 L1176.8,934.29 L1179.2,928.35 L1181.6,922.37 L1184,916.37 L1186.4,909.73 L1188.8,902.17 L1191.2,894.65 L1193.6,887.22 L1196,879.88 L1198.4,872.69 L1200.8,865.65 L1203.2,858.8 L1205.6,852.15 L1208,845.73 L1210.4,839.55 L1212.8,833.62 L1215.2,827.95 L1217.6,822.54 L1220,817.4 L1222.4,812.54 L1224.8,807.94 L1227.2,803.6 L1229.6,799.53 L1232,795.71 L1234.4,792.13 L1236.8,788.79 L1239.2,785.67 L1241.6,782.77 L1244,780.08 L1246.4,777.58 L1248.8,775.27 L1251.2,773.13 L1253.6,771.15 L1256,769.32 L1258.4,767.64 L1260.8,766.09 L1263.2,764.66 L1265.6,763.34 L1268,762.14 L1270.4,761.03 L1272.8,760.01 L1275.2,759.08 L1277.6,758.23 L1280,757.44 L1282.4,756.73 L1284.8,756.07 L1287.2,755.47 L1289.6,754.92 L1292,754.41 L1294.4,753.95 L1296.8,753.53 L1299.2,753.15 L1301.6,752.8 L1304,752.48 L1306.4,752.19 L1308.8,751.92 L1311.2,751.67 L1313.6,751.45 L1316,751.25 L1318.4,751.06 L1320.8,750.89 L1323.2,750.74 L1325.6,750.6 L1328,750.47 L1330.4,750.35 L1332.8,750.25 L1335.2,750.15 L1337.6,750.06 L1340,749.98 L1342.4,749.9 L1344.8,749.84 L1347.2,749.77 L1349.6,749.72 L1352,749.67 L1354.4,749.62 L1356.8,749.58 L1359.2,749.54 L1361.6,749.5 L1364,749.47 L1366.4,749.44 L1368.8,749.41 L1371.2,749.39 L1373.6,749.37 L1376,749.35 L1378.4,749.33 L1380.8,749.31 L1383.2,749.3 L1385.6,749.28 L1388,749.27 L1390.4,749.26 L1392.8,749.25 L1395.2,749.24 L1397.6,749.23 L1400,749.22 L1402.4,749.21 L1404.8,749.21 L1407.2,749.2 L1409.6,749.19 L1412,749.19 L1414.4,749.19 L1416.8,749.18 L1419.2,749.18 L1421.6,749.17 L1424,749.17 L1426.4,749.17" fill="none" stroke="#FF0080" stroke-width="3.0" stroke-linejoin="round" stroke-linecap="round"/>
<rect x="894.8" y="1071.38" width="7.2" height="7.2" fill="#FF0080"/>
<rect x="942.8" y="1063.78" width="7.2" height="7.2" fill="#FF0080"/>
<rect x="1038.8" y="1060.17" width="7.2" height="7.2" fill="#FF0080"/>
<rect x="1086.8" y="1051.37" width="7.2" height="7.2" fill="#FF0080"/>
<rect x="1134.8" y="1008.93" width="7.2" height="7.2" fill="#FF0080"/>
<rect x="1182.8" y="954.09" width="7.2" height="7.2" fill="#FF0080"/>
<rect x="1230.8" y="697.5" width="7.2" height="7.2" fill="#FF0080"/>
<rect x="1422.8" y="801.58" width="7.2" height="7.2" fill="#FF0080"/>
<path d="M850.4,1021.34 L898.4,1077.58 L946.4,1099.4 L994.4,1034.95 L1018.4,921.27 L1032.8,841.61 L1042.4,699.1 L1138.4,707.91 L1234.4,755.54" fill="none" stroke="#00CC88" stroke-width="2.6" stroke-linejoin="round" stroke-linecap="round"/>
<rect x="846.8" y="1017.74" width="7.2" height="7.2" fill="#00CC88"/>
<rect x="894.8" y="1073.98" width="7.2" height="7.2" fill="#00CC88"/>
<rect x="942.8" y="1095.8" width="7.2" height="7.2" fill="#00CC88"/>
<rect x="990.8" y="1031.35" width="7.2" height="7.2" fill="#00CC88"/>
<rect x="1014.8" y="917.67" width="7.2" height="7.2" fill="#00CC88"/>
<rect x="1029.2" y="838.01" width="7.2" height="7.2" fill="#00CC88"/>
<rect x="1038.8" y="695.5" width="7.2" height="7.2" fill="#00CC88"/>
<rect x="1134.8" y="704.31" width="7.2" height="7.2" fill="#00CC88"/>
<rect x="1230.8" y="751.94" width="7.2" height="7.2" fill="#00CC88"/>
<path d="M850.4,1099.4 L898.4,1099.4 L946.4,1099.4 L994.4,1099.4 L1018.4,832.8 L1032.8,832.8 L1042.4,699.1 L1138.4,699.1 L1234.4,699.1" fill="none" stroke="#0060A8" stroke-width="2.6" stroke-linejoin="round" stroke-linecap="round"/>
<rect x="846.8" y="1095.8" width="7.2" height="7.2" fill="#0060A8"/>
<rect x="894.8" y="1095.8" width="7.2" height="7.2" fill="#0060A8"/>
<rect x="942.8" y="1095.8" width="7.2" height="7.2" fill="#0060A8"/>
<rect x="990.8" y="1095.8" width="7.2" height="7.2" fill="#0060A8"/>
<rect x="1014.8" y="829.2" width="7.2" height="7.2" fill="#0060A8"/>
<rect x="1029.2" y="829.2" width="7.2" height="7.2" fill="#0060A8"/>
<rect x="1038.8" y="695.5" width="7.2" height="7.2" fill="#0060A8"/>
<rect x="1134.8" y="695.5" width="7.2" height="7.2" fill="#0060A8"/>
<rect x="1230.8" y="695.5" width="7.2" height="7.2" fill="#0060A8"/>
<rect x="841" y="659.1" width="596.4" height="480.3" fill="none" stroke="#000" stroke-width="1.7"/>
<line x1="831.6" y1="1099.4" x2="841" y2="1099.4" stroke="#000" stroke-width="1.7" stroke-linecap="butt"/>
<line x1="1428" y1="1099.4" x2="1437.4" y2="1099.4" stroke="#000" stroke-width="1.7" stroke-linecap="butt"/>
<text transform="translate(826,1105.6) scale(1,1.02)" text-anchor="end">0.0</text>
<text transform="translate(1445.6,1104.3) scale(1,1.02)">0.0</text>
<line x1="836.4" y1="999.33" x2="841" y2="999.33" stroke="#000" stroke-width="1.7" stroke-linecap="butt"/>
<line x1="1432.8" y1="999.33" x2="1437.4" y2="999.33" stroke="#000" stroke-width="1.7" stroke-linecap="butt"/>
<line x1="831.6" y1="899.25" x2="841" y2="899.25" stroke="#000" stroke-width="1.7" stroke-linecap="butt"/>
<line x1="1428" y1="899.25" x2="1437.4" y2="899.25" stroke="#000" stroke-width="1.7" stroke-linecap="butt"/>
<text transform="translate(826,905.45) scale(1,1.02)" text-anchor="end">0.5</text>
<text transform="translate(1445.6,904.15) scale(1,1.02)">0.5</text>
<line x1="836.4" y1="799.18" x2="841" y2="799.18" stroke="#000" stroke-width="1.7" stroke-linecap="butt"/>
<line x1="1432.8" y1="799.18" x2="1437.4" y2="799.18" stroke="#000" stroke-width="1.7" stroke-linecap="butt"/>
<line x1="831.6" y1="699.1" x2="841" y2="699.1" stroke="#000" stroke-width="1.7" stroke-linecap="butt"/>
<line x1="1428" y1="699.1" x2="1437.4" y2="699.1" stroke="#000" stroke-width="1.7" stroke-linecap="butt"/>
<text transform="translate(826,705.3) scale(1,1.02)" text-anchor="end">1.0</text>
<text transform="translate(1445.6,704) scale(1,1.02)">1.0</text>
<line x1="850.4" y1="1139.4" x2="850.4" y2="1148.8" stroke="#000" stroke-width="1.7" stroke-linecap="butt"/>
<line x1="850.4" y1="649.7" x2="850.4" y2="659.1" stroke="#000" stroke-width="1.7" stroke-linecap="butt"/>
<text transform="translate(850.4,1170.5) scale(1,1.02)" text-anchor="middle">0</text>
<line x1="898.4" y1="1139.4" x2="898.4" y2="1144" stroke="#000" stroke-width="1.7" stroke-linecap="butt"/>
<line x1="898.4" y1="654.5" x2="898.4" y2="659.1" stroke="#000" stroke-width="1.7" stroke-linecap="butt"/>
<line x1="946.4" y1="1139.4" x2="946.4" y2="1148.8" stroke="#000" stroke-width="1.7" stroke-linecap="butt"/>
<line x1="946.4" y1="649.7" x2="946.4" y2="659.1" stroke="#000" stroke-width="1.7" stroke-linecap="butt"/>
<text transform="translate(946.4,1170.5) scale(1,1.02)" text-anchor="middle">1</text>
<line x1="994.4" y1="1139.4" x2="994.4" y2="1144" stroke="#000" stroke-width="1.7" stroke-linecap="butt"/>
<line x1="994.4" y1="654.5" x2="994.4" y2="659.1" stroke="#000" stroke-width="1.7" stroke-linecap="butt"/>
<line x1="1042.4" y1="1139.4" x2="1042.4" y2="1148.8" stroke="#000" stroke-width="1.7" stroke-linecap="butt"/>
<line x1="1042.4" y1="649.7" x2="1042.4" y2="659.1" stroke="#000" stroke-width="1.7" stroke-linecap="butt"/>
<text transform="translate(1042.4,1170.5) scale(1,1.02)" text-anchor="middle">2</text>
<line x1="1090.4" y1="1139.4" x2="1090.4" y2="1144" stroke="#000" stroke-width="1.7" stroke-linecap="butt"/>
<line x1="1090.4" y1="654.5" x2="1090.4" y2="659.1" stroke="#000" stroke-width="1.7" stroke-linecap="butt"/>
<line x1="1138.4" y1="1139.4" x2="1138.4" y2="1148.8" stroke="#000" stroke-width="1.7" stroke-linecap="butt"/>
<line x1="1138.4" y1="649.7" x2="1138.4" y2="659.1" stroke="#000" stroke-width="1.7" stroke-linecap="butt"/>
<text transform="translate(1138.4,1170.5) scale(1,1.02)" text-anchor="middle">3</text>
<line x1="1186.4" y1="1139.4" x2="1186.4" y2="1144" stroke="#000" stroke-width="1.7" stroke-linecap="butt"/>
<line x1="1186.4" y1="654.5" x2="1186.4" y2="659.1" stroke="#000" stroke-width="1.7" stroke-linecap="butt"/>
<line x1="1234.4" y1="1139.4" x2="1234.4" y2="1148.8" stroke="#000" stroke-width="1.7" stroke-linecap="butt"/>
<line x1="1234.4" y1="649.7" x2="1234.4" y2="659.1" stroke="#000" stroke-width="1.7" stroke-linecap="butt"/>
<text transform="translate(1234.4,1170.5) scale(1,1.02)" text-anchor="middle">4</text>
<line x1="1282.4" y1="1139.4" x2="1282.4" y2="1144" stroke="#000" stroke-width="1.7" stroke-linecap="butt"/>
<line x1="1282.4" y1="654.5" x2="1282.4" y2="659.1" stroke="#000" stroke-width="1.7" stroke-linecap="butt"/>
<line x1="1330.4" y1="1139.4" x2="1330.4" y2="1148.8" stroke="#000" stroke-width="1.7" stroke-linecap="butt"/>
<line x1="1330.4" y1="649.7" x2="1330.4" y2="659.1" stroke="#000" stroke-width="1.7" stroke-linecap="butt"/>
<text transform="translate(1330.4,1170.5) scale(1,1.02)" text-anchor="middle">5</text>
<line x1="1378.4" y1="1139.4" x2="1378.4" y2="1144" stroke="#000" stroke-width="1.7" stroke-linecap="butt"/>
<line x1="1378.4" y1="654.5" x2="1378.4" y2="659.1" stroke="#000" stroke-width="1.7" stroke-linecap="butt"/>
<line x1="1426.4" y1="1139.4" x2="1426.4" y2="1148.8" stroke="#000" stroke-width="1.7" stroke-linecap="butt"/>
<line x1="1426.4" y1="649.7" x2="1426.4" y2="659.1" stroke="#000" stroke-width="1.7" stroke-linecap="butt"/>
<text transform="translate(1426.4,1170.5) scale(1,1.02)" text-anchor="middle">6</text>
<text transform="translate(1161.8,1196.2) scale(1,1.02)" text-anchor="middle">Time [h]</text>
<text transform="translate(780.6,924.7) rotate(-90) scale(1.02,1)" text-anchor="middle" font-size="19.3">norm. ThT fluorescence [AU]</text>
<text transform="translate(1498,925.4) rotate(-90) scale(1.02,1)" text-anchor="middle" font-size="19.3">norm. change in FUV CD</text>
<text transform="translate(1226,947.5) scale(1,1.02)" fill="#FF0080" style="stroke:#FF0080" font-size="22">ThT Fluorescence</text>
<text transform="translate(1226,1062.5) scale(1,1.02)" font-size="22">FUV CD:</text>
<text transform="translate(1225.5,1092.5) scale(1,1.02)" fill="#0010C0" style="stroke:#0010C0" font-size="22">Shift of minimum</text>
<text transform="translate(1226,1122) scale(1,1.02)" fill="#00CC88" style="stroke:#00CC88" font-size="22">Change in intensity</text>
<text transform="translate(776.6,652.1) scale(1,1.02)" font-size="34">d</text>
</svg></body></html>
